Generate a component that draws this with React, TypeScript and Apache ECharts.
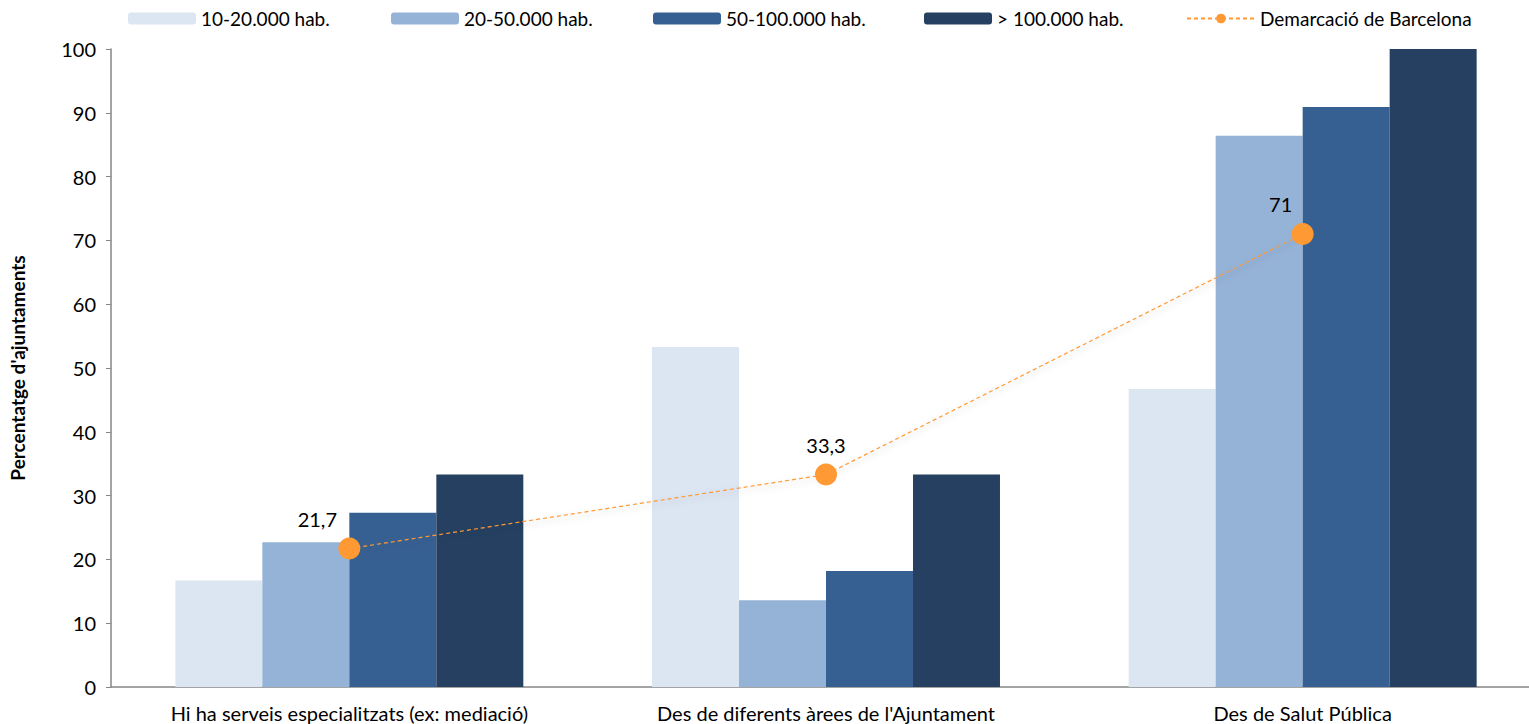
import React, { useEffect, useRef } from "react";
import * as echarts from "echarts";

const categories = [
  "Hi ha serveis especialitzats (ex: mediació)",
  "Des de diferents àrees de l'Ajuntament",
  "Des de Salut Pública",
];
const seriesNames = ["10-20.000 hab.", "20-50.000 hab.", "50-100.000 hab.", "> 100.000 hab."];
const s1020 = [16.7, 53.3, 46.7];
const s2050 = [22.7, 13.6, 86.4];
const s50100 = [27.3, 18.2, 90.9];
const s100 = [33.3, 33.3, 100];
const lineName = "Demarcació de Barcelona";
const lineValues = [21.7, 33.3, 71];
const yTicks = [0, 10, 20, 30, 40, 50, 60, 70, 80, 90, 100];

const colors = ["#DCE6F2", "#95B3D7", "#376092", "#254061"];
const orange = "#FF9933";
const FONT = "Lato";

export default function App() {
  const ref = useRef<HTMLDivElement>(null);
  useEffect(() => {
    if (!ref.current) return;
    const chart = echarts.init(ref.current, null, { renderer: "svg" });
    const barData = [s1020, s2050, s50100, s100];
    const legendLefts = [123, 386, 648, 919, 1181];
    const allNames = [...seriesNames, lineName];
    const labelOffsets = [[-32, -2], [0, -2], [-22, -2]];
    chart.setOption({
      animation: false,
      textStyle: { fontFamily: FONT },
      legend: allNames.map((n, i) => ({
        data: [n],
        left: legendLefts[i],
        top: 4,
        itemWidth: 68,
        itemHeight: 12,
        itemGap: 8,
        textStyle: { fontFamily: FONT, fontSize: 19, color: "#000" },
      })),
      grid: { left: 110, right: 0, top: 49, bottom: 37, containLabel: false },
      xAxis: {
        type: "category",
        data: categories,
        axisLine: { lineStyle: { color: "#868686", width: 1.5 } },
        axisTick: { show: false },
        axisLabel: { fontFamily: FONT, fontSize: 20, lineHeight: 20, color: "#000", margin: 16, interval: 0 },
      },
      yAxis: {
        type: "value",
        min: yTicks[0],
        max: yTicks[yTicks.length - 1],
        interval: 10,
        name: "Percentatge d'ajuntaments",
        nameLocation: "middle",
        nameRotate: 90,
        nameGap: 84,
        nameTextStyle: { fontFamily: FONT, fontSize: 19, fontWeight: "bold", color: "#000" },
        axisLine: { show: true, lineStyle: { color: "#868686", width: 1.5 } },
        axisTick: { show: true, length: 5, lineStyle: { color: "#868686" } },
        axisLabel: { fontFamily: FONT, fontSize: 20, color: "#000", margin: 15 },
        splitLine: { show: false },
      },
      series: [
        ...seriesNames.map((n, i) => ({
          name: n,
          type: "bar",
          data: barData[i],
          barGap: "0%",
          barCategoryGap: "27%",
          itemStyle: { color: colors[i] },
        })),
        {
          name: lineName,
          type: "line",
          data: lineValues.map((v, i) => ({
            value: v,
            label: { offset: labelOffsets[i] },
          })),
          symbol: "circle",
          symbolSize: 22,
          z: 5,
          itemStyle: { color: orange },
          lineStyle: {
            color: orange,
            width: 1.2,
            type: [4, 3],
            shadowBlur: 6,
            shadowColor: "rgba(0,0,0,0.25)",
            shadowOffsetY: 3,
          },
          label: {
            show: true,
            position: "top",
            fontFamily: FONT,
            fontSize: 20,
            color: "#000",
            distance: 7,
            formatter: (p: any) => String(p.value).replace(".", ","),
          },
        },
      ],
    });
    return () => chart.dispose();
  }, []);
  return (
    <div style={{ position: "absolute", left: 0, top: 0, width: 1529, height: 724, overflow: "hidden", background: "#fff" }}>
      <div ref={ref} style={{ width: 1541, height: 724 }} />
    </div>
  );
}
